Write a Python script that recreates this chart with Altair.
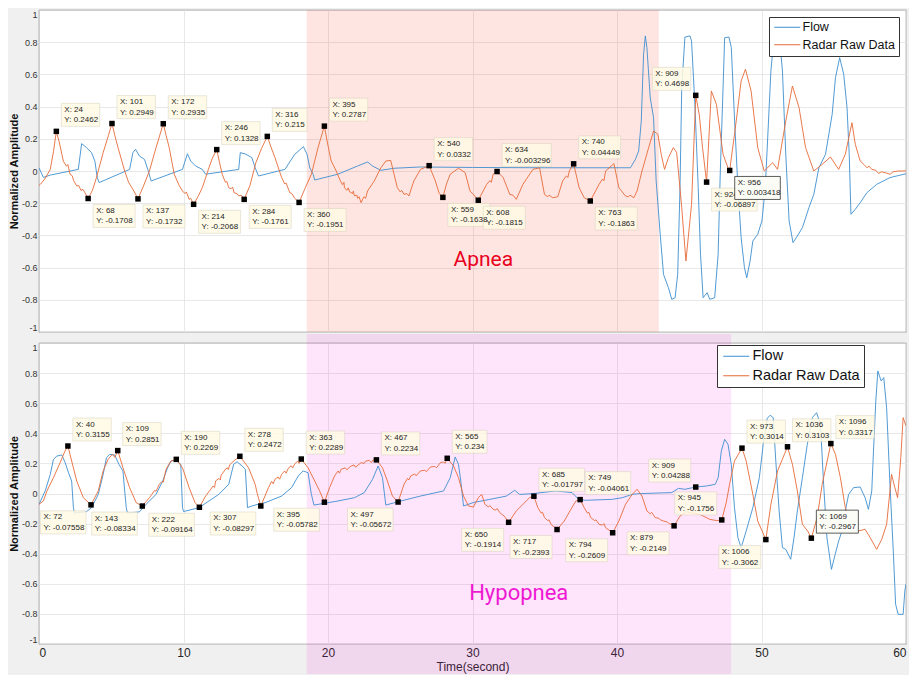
import altair as alt
import pandas as pd

W, H1, H2 = 867, 322, 301
SAMPLE_RATE = 20
SERIES = ["Flow", "Radar Raw Data"]
COLORS = ["#3d8fcf", "#e66a38"]
XTICKS = [0, 10, 20, 30, 40, 50, 60]
YTICKS = [-1.0, -0.8, -0.6, -0.4, -0.2, 0.0, 0.2, 0.4, 0.6, 0.8, 1.0]
FONT = "Liberation Sans, Arial, Helvetica, sans-serif"

APNEA_SPAN = [18.53, 42.9, -1.0, 1.0]
HYPOPNEA_SPAN = [18.53, 47.9, -1.2, 1.06]
APNEA_LABEL = ["Apnea", 30.75, -0.55]
HYPOPNEA_LABEL = ["Hypopnea", 33.2, -0.66]

# (time s, amplitude)
FLOW_TOP = [(0, 0.02), (0.3, -0.04), (0.8, -0.025), (2.72, 0.01), (2.95, 0.17), (3.29, 0.145), (3.64, 0.114),
            (3.87, 0.06), (4.03, -0.04), (4.16, -0.072), (6.27, 0.01), (6.5, 0.114), (6.68, 0.135), (6.95, 0.093),
            (7.3, 0.072), (7.53, 0.01), (7.76, -0.062), (9.93, 0.01), (10.27, 0.107), (10.5, 0.062), (10.84, 0.031),
            (11.3, 0.01), (11.53, -0.02), (13.82, 0.01), (13.93, 0.114), (14.3, 0.105), (14.73, 0.083), (14.96, 0.02),
            (15.19, -0.031), (17.02, 0.01), (17.7, 0.104), (18.3, 0.151), (18.55, 0.104), (18.74, 0.02), (18.97, -0.02),
            (19.08, -0.056), (20.68, -0.02), (22.05, 0.031), (22.74, 0.056), (23.08, 0.031), (23.66, 0.004),
            (24.57, 0.017), (26.4, 0.025), (30.0, 0.022), (35.0, 0.02), (40.93, 0.02), (41.27, 0.072), (41.5, 0.124),
            (41.68, 0.31), (41.84, 0.725), (41.96, 0.839), (42.07, 0.766), (42.3, 0.455), (42.53, 0.331),
            (42.71, -0.062), (42.99, -0.393), (43.22, -0.642), (43.56, -0.725), (43.79, -0.797), (44.02, -0.787),
            (44.2, -0.642), (44.36, -0.104), (44.48, 0.517), (44.7, 0.832), (45.05, 0.839), (45.16, 0.807),
            (45.39, 0.414), (45.62, -0.104), (45.78, -0.517), (45.96, -0.787), (46.24, -0.756), (46.42, -0.797),
            (46.76, -0.787), (47.0, -0.517), (47.15, 0.0), (47.34, 0.517), (47.45, 0.828), (47.75, 0.832),
            (47.91, 0.766), (48.14, 0.31), (48.37, -0.104), (48.59, -0.414), (48.82, -0.6), (48.98, -0.663),
            (49.21, -0.559), (49.4, -0.435), (49.74, -0.393), (50.03, -0.31), (50.26, -0.104), (50.43, 0.207),
            (50.65, 0.621), (50.88, 0.85), (51.22, 0.85), (51.45, 0.621), (51.68, 0.104), (51.91, -0.31),
            (52.18, -0.445), (52.48, -0.404), (52.83, -0.352), (53.28, -0.228), (53.62, -0.145), (53.97, 0.02),
            (54.43, 0.104), (54.89, 0.352), (55.12, 0.58), (55.41, 0.704), (55.69, 0.6), (55.92, 0.393),
            (56.07, 0.104), (56.19, -0.269), (56.49, -0.238), (56.83, -0.197), (57.29, -0.135), (57.97, -0.083),
            (58.89, -0.041), (60.0, -0.017)]

RADAR_TOP = [(0.0, -0.09), (0.09, -0.083), (0.4, -0.05), (0.78, 0.01), (1.0, 0.12), (1.2, 0.246), (1.4, 0.18),
             (1.69, 0.06), (1.9, 0.03), (2.0, 0.04), (2.15, -0.02), (2.3, -0.03), (2.4, -0.06), (2.61, -0.093),
             (2.75, -0.09), (2.9, -0.12), (3.05, -0.115), (3.18, -0.135), (3.4, -0.171), (3.7, -0.12),
             (3.98, -0.04), (4.44, 0.114), (4.8, 0.22), (5.05, 0.295), (5.25, 0.22),
             (5.47, 0.145), (5.93, 0.0), (6.2, -0.07), (6.5, -0.114), (6.85, -0.173), (7.2, -0.1), (7.64, 0.0),
             (8.1, 0.145), (8.6, 0.2935), (8.8, 0.22), (9.01, 0.145), (9.36, -0.02), (9.7, -0.09), (9.93, -0.124),
             (10.1, -0.14), (10.2, -0.13), (10.39, -0.176), (10.5, -0.17), (10.7, -0.207), (11.0, -0.16),
             (11.3, -0.104), (11.76, 0.02), (12.0, 0.08), (12.3, 0.133), (12.5, 0.05), (12.68, -0.02),
             (12.9, -0.07), (13.0, -0.065), (13.13, -0.104), (13.3, -0.11), (13.4, -0.1), (13.5, -0.135),
             (13.7, -0.14), (13.82, -0.155), (14.0, -0.15), (14.2, -0.176), (14.6, -0.09), (15.0, 0.05),
             (15.4, 0.14), (15.8, 0.215), (16.05, 0.15), (16.33, 0.083), (16.79, -0.04), (17.0, -0.08),
             (17.1, -0.075), (17.36, -0.135), (17.5, -0.14), (17.7, -0.17), (18.0, -0.195),
             (18.4, -0.11), (18.85, -0.02), (19.31, 0.145), (19.75, 0.279), (19.95, 0.18), (20.22, 0.062),
             (20.57, 0.0), (20.85, -0.06), (21.0, -0.085), (21.1, -0.07), (21.14, -0.104), (21.3, -0.12),
             (21.4, -0.105), (21.5, -0.13), (21.7, -0.14), (21.75, -0.125), (21.83, -0.155), (22.0, -0.15),
             (22.05, -0.17), (22.15, -0.16), (22.29, -0.197), (22.4, -0.175), (22.5, -0.16), (22.6, -0.17),
             (22.74, -0.124), (23.2, -0.062), (23.66, 0.02), (24.0, 0.062),
             (24.34, 0.066), (24.57, -0.02), (24.8, -0.104), (25.0, -0.13), (25.1, -0.12), (25.26, -0.145),
             (25.45, -0.14), (25.6, -0.155), (25.94, -0.062),
             (26.4, 0.01), (27.0, 0.033), (27.43, -0.062), (27.7, -0.14), (27.95, -0.164), (28.2, -0.08),
             (28.46, -0.02), (29.03, 0.017), (29.49, -0.01), (29.83, -0.124), (30.1, -0.15), (30.4, -0.1815),
             (30.98, -0.083), (31.2, -0.06), (31.3, -0.07), (31.43, -0.02), (31.7, -0.0033), (32.12, -0.04),
             (32.58, -0.145), (32.8, -0.15), (33.03, -0.176),
             (33.49, -0.083), (34.18, 0.01), (34.64, 0.02), (34.98, -0.145), (35.2, -0.16), (35.3, -0.15),
             (35.55, -0.166), (35.9, -0.16), (36.24, -0.062), (36.5, -0.03), (36.6, -0.04),
             (36.7, 0.0), (37.0, 0.0445), (37.38, -0.104), (37.73, -0.166), (38.15, -0.186),
             (38.76, -0.083), (39.0, -0.05), (39.1, -0.06), (39.21, 0.0), (39.79, 0.046), (40.13, -0.104),
             (40.59, -0.155), (40.8, -0.16), (40.9, -0.15), (41.16, -0.166),
             (41.39, -0.124), (41.73, 0.0), (42.19, 0.145), (42.53, 0.248), (42.83, 0.228), (43.06, 0.104),
             (43.29, 0.01), (43.56, 0.083), (43.9, 0.145), (44.13, 0.114), (44.48, -0.228), (44.77, -0.559),
             (45.16, -0.207), (45.45, 0.4698), (45.69, 0.352), (45.92, 0.145), (46.2, -0.069), (46.53, 0.497),
             (46.88, 0.414), (47.34, 0.104), (47.68, 0.02), (47.8, 0.0034), (48.25, 0.31), (48.59, 0.559),
             (48.89, 0.632), (49.28, 0.497), (49.74, 0.145), (50.19, 0.0), (50.77, 0.052), (51.11, 0.01),
             (51.68, 0.31), (52.14, 0.528), (52.6, 0.393), (53.05, 0.145), (53.62, 0.0), (54.2, 0.041),
             (54.77, 0.087), (55.34, 0.01), (55.8, 0.104), (56.26, 0.3), (56.49, 0.166), (56.83, 0.062),
             (57.1, 0.04), (57.3, 0.02), (57.45, 0.03), (57.63, 0.01), (57.9, 0.005), (58.1, -0.015),
             (58.3, -0.005), (58.55, -0.01), (58.9, -0.02), (59.1, -0.005), (59.46, 0.0), (60.0, 0.0)]

FLOW_BOT = [(0, -0.072), (0.43, 0.017), (0.78, 0.127), (1.0, 0.227), (1.24, 0.249), (1.58, 0.256), (1.81, 0.205),
            (2.04, 0.138), (2.26, 0.083), (2.38, -0.094), (2.45, -0.13), (3.29, -0.12), (3.64, -0.094),
            (4.1, -0.006), (4.44, 0.127), (4.67, 0.238), (4.9, 0.26), (5.24, 0.256), (5.53, 0.194), (5.81, 0.15),
            (5.93, 0.017), (6.04, -0.094), (6.12, -0.13), (6.95, -0.122), (7.41, -0.072), (8.1, -0.006),
            (8.56, 0.083), (8.9, 0.171), (9.13, 0.216), (9.47, 0.22), (9.81, 0.194), (9.93, -0.094), (10.0, -0.12),
            (11.07, -0.094), (11.76, -0.05), (12.44, -0.006), (13.13, 0.061), (13.47, 0.194), (13.71, 0.211),
            (14.05, 0.183), (14.28, 0.161), (14.43, -0.094), (14.73, -0.083), (15.3, -0.068), (15.65, -0.061),
            (16.79, -0.017), (17.48, 0.039), (17.94, 0.116), (18.28, 0.15), (18.62, 0.138), (18.85, -0.006),
            (19.03, -0.077), (20.68, -0.05), (21.83, -0.028), (22.51, 0.006), (23.08, 0.094), (23.47, 0.183),
            (23.77, 0.105), (24.0, -0.077), (25.03, -0.05), (26.4, -0.017), (28.0, 0.017), (28.46, 0.105),
            (28.8, 0.243), (29.03, 0.194), (29.19, 0.083), (29.38, -0.083), (30.06, -0.06), (31.2, -0.039),
            (32.35, -0.017), (32.92, 0.021), (33.26, -0.006), (34.18, -0.001), (35.75, 0.017), (36.89, 0.006),
            (37.35, -0.039), (37.8, -0.045), (39.67, -0.039), (40.36, -0.028), (41.05, -0.006), (41.5, -0.001),
            (43.79, 0.006), (44.25, 0.034), (44.7, 0.028), (45.45, 0.043), (46.2, 0.05), (46.8, 0.061),
            (47.0, 0.105), (47.22, 0.282), (47.45, 0.36), (47.68, 0.327), (47.91, 0.194), (48.13, -0.094),
            (48.37, -0.294), (48.59, -0.36), (48.94, -0.249), (49.4, -0.094), (49.85, 0.105), (50.12, 0.327),
            (50.4, 0.5), (50.6, 0.52), (50.81, 0.504), (50.99, 0.216), (51.22, -0.116), (51.45, -0.36),
            (51.68, -0.371), (52.02, -0.437), (52.25, -0.294), (52.48, -0.116), (52.83, 0.105), (53.17, 0.327),
            (53.52, 0.504), (53.81, 0.537), (54.08, 0.46), (54.3, 0.061), (54.53, -0.294), (54.84, -0.504),
            (55.1, -0.404), (55.34, -0.316), (55.57, -0.249), (55.8, -0.116), (56.03, -0.006), (56.37, 0.039),
            (56.83, 0.043), (57.17, -0.028), (57.4, -0.105), (57.63, 0.017), (57.75, 0.282), (57.91, 0.615),
            (58.05, 0.814), (58.28, 0.748), (58.46, 0.77), (58.66, 0.57), (58.89, 0.061), (59.12, -0.382),
            (59.28, -0.736), (59.46, -0.803), (59.8, -0.803), (59.92, -0.648), (60.0, -0.6)]

RADAR_BOT = [(0, -0.072), (0.3, -0.05), (0.55, 0.017), (1.0, 0.105), (1.46, 0.205), (1.8, 0.282), (2.0, 0.3155),
             (2.26, 0.216), (2.61, 0.083), (3.07, -0.028), (3.6, -0.0756), (4.1, 0.017), (4.44, 0.15), (4.78, 0.227),
             (5.08, 0.26), (5.25, 0.24), (5.45, 0.2851), (5.81, 0.171), (6.27, 0.039), (6.73, -0.061),
             (7.15, -0.0833), (7.64, -0.028), (8.0, 0.02), (8.1, 0.015), (8.33, 0.061), (8.5, 0.08),
             (8.6, 0.075), (8.79, 0.161), (9.13, 0.216),
             (9.5, 0.2269), (9.93, 0.171), (10.39, 0.039), (10.8, -0.061), (11.1, -0.0916), (11.53, -0.017),
             (11.9, 0.03), (12.05, 0.05), (12.15, 0.04), (12.22, 0.083), (12.45, 0.1), (12.55, 0.09),
             (12.6, 0.12), (12.9, 0.161), (13.05, 0.17), (13.1, 0.16), (13.2, 0.19), (13.47, 0.216),
             (13.9, 0.2472), (14.5, 0.171), (14.96, 0.061), (15.1, 0.0), (15.35, -0.083), (15.88, 0.039),
             (16.1, 0.08), (16.2, 0.065), (16.33, 0.094), (16.55, 0.11), (16.65, 0.095), (16.79, 0.127),
             (17.0, 0.15), (17.1, 0.135), (17.25, 0.167), (17.45, 0.185), (17.55, 0.17), (17.71, 0.198),
             (17.9, 0.215), (18.0, 0.2), (18.15, 0.2289), (18.62, 0.171),
             (19.08, 0.083), (19.42, 0.017), (19.75, -0.058), (20.11, 0.039), (20.45, 0.116), (20.7, 0.15),
             (20.8, 0.135), (20.91, 0.161), (21.2, 0.17), (21.3, 0.158), (21.6, 0.183), (21.8, 0.19),
             (21.9, 0.175), (22.29, 0.205), (22.5, 0.2), (22.6, 0.215), (22.86, 0.22), (23.0, 0.205),
             (23.1, 0.222), (23.35, 0.2234), (23.77, 0.171), (24.11, 0.083),
             (24.46, -0.017), (24.85, -0.0567), (25.26, 0.061), (25.5, 0.1), (25.6, 0.09), (25.72, 0.116),
             (26.0, 0.13), (26.1, 0.118), (26.4, 0.15), (26.7, 0.155), (26.8, 0.145), (27.09, 0.176),
             (27.4, 0.18), (27.5, 0.17), (27.78, 0.205), (28.0, 0.21), (28.1, 0.2), (28.25, 0.234),
             (28.69, 0.183), (29.03, 0.105), (29.38, -0.017), (29.72, -0.083),
             (30.06, -0.09), (30.4, -0.028), (30.64, -0.006), (30.86, -0.072), (31.1, -0.09), (31.2, -0.08),
             (31.43, -0.105), (31.6, -0.11), (31.7, -0.1), (31.89, -0.127), (32.05, -0.14),
             (32.2, -0.15), (32.5, -0.1914), (33.03, -0.116), (33.49, -0.072), (33.95, -0.028), (34.25, -0.018),
             (34.52, -0.094), (34.75, -0.13), (34.85, -0.125), (34.98, -0.16), (35.2, -0.18), (35.3, -0.175),
             (35.44, -0.205), (35.85, -0.2393), (36.35, -0.183), (36.81, -0.105),
             (37.15, -0.05), (37.45, -0.0406), (37.73, -0.094), (37.95, -0.13), (38.05, -0.125),
             (38.18, -0.16), (38.45, -0.18), (38.55, -0.175), (38.76, -0.205), (39.0, -0.21), (39.1, -0.2),
             (39.21, -0.227), (39.7, -0.2609), (40.13, -0.183), (40.59, -0.072), (41.05, -0.006), (41.39, 0.028),
             (41.73, -0.017), (42.07, -0.116), (42.3, -0.135), (42.4, -0.125), (42.64, -0.16), (42.9, -0.165),
             (43.0, -0.175), (43.22, -0.183), (43.5, -0.19), (43.6, -0.2), (43.79, -0.205), (43.95, -0.2149),
             (44.36, -0.15),
             (44.8, -0.12), (45.2, -0.13), (45.73, -0.138), (46.42, -0.172), (46.9, -0.18), (47.25, -0.1756),
             (47.56, -0.061), (47.79, 0.061), (48.13, 0.216), (48.65, 0.3014), (48.94, 0.216), (49.4, -0.006),
             (49.74, -0.183), (50.3, -0.3062), (50.65, -0.072), (51.11, 0.15), (51.8, 0.3103), (52.14, 0.194),
             (52.48, 0.017), (52.83, -0.205), (53.2, -0.25), (53.45, -0.2967), (53.85, -0.16), (54.2, 0.061),
             (54.8, 0.3317), (55.12, 0.26), (55.46, 0.105), (55.8, -0.094), (56.26, -0.216), (56.72, -0.249),
             (57.17, -0.238), (57.52, -0.293), (57.97, -0.371), (58.32, -0.305), (58.66, -0.205), (59.0, 0.127),
             (59.23, 0.039), (59.42, -0.028), (59.64, 0.238), (59.8, 0.504), (60.0, 0.45)]

# data tips: (sample index, value, placement u/l + r/l)
TIPS_TOP = [(24, 0.2462, "ur"), (68, -0.1708, "lr"), (101, 0.2949, "ur"), (137, -0.1732, "lr"),
            (172, 0.2935, "ur"), (214, -0.2068, "lr"), (246, 0.1328, "ur"), (284, -0.1761, "lr"),
            (316, 0.215, "ur"), (360, -0.1951, "lr"), (395, 0.2787, "ur"), (540, 0.0332, "ur"),
            (559, -0.1638, "lr"), (608, -0.1815, "lr"), (634, -0.003296, "ur"), (740, 0.04449, "ur"),
            (763, -0.1863, "lr"), (909, 0.4698, "ul"), (924, -0.06897, "lr"), (956, 0.003418, "lr")]
TIPS_BOT = [(40, 0.3155, "ur"), (72, -0.07558, "ll"), (109, 0.2851, "ur"), (143, -0.08334, "ll"),
            (190, 0.2269, "ur"), (222, -0.09164, "ll"), (278, 0.2472, "ur"), (307, -0.08297, "ll"),
            (363, 0.2289, "ur"), (395, -0.05782, "ll"), (467, 0.2234, "ur"), (497, -0.05672, "ll"),
            (565, 0.234, "ur"), (650, -0.1914, "ll"), (685, -0.01797, "ur"), (717, -0.2393, "ll"),
            (749, -0.04061, "ur"), (794, -0.2609, "ll"), (879, -0.2149, "ll"), (909, 0.04288, "ul"),
            (945, -0.1756, "ul"), (973, 0.3014, "ur"), (1006, -0.3062, "ll"), (1036, 0.3103, "ur"),
            (1069, -0.2967, "ur"), (1096, 0.3317, "ur")]
HILITE_TOP = [956]
HILITE_BOT = [1069]


def tips_frame(tips, hilite, H):
    ppx = W / 60.0
    ppy = H / 2.0
    rows = []
    for X, Y, pos in tips:
        t = X / SAMPLE_RATE
        xs, ys = f"X: {X}", f"Y: {Y}"
        w = 3.6 * max(len(xs), len(ys)) + 6
        if pos[1] == "r":
            x0 = t + 5 / ppx
        else:
            x0 = t - (5 + w) / ppx
        x1 = x0 + w / ppx
        if pos[0] == "u":
            bot = Y + 5 / ppy
            top = bot + 23 / ppy
        else:
            top = Y - 6 / ppy
            bot = top - 23 / ppy
        rows.append(dict(t=t, v=Y, x0=x0, x1=x1, top=top, bot=bot,
                         label=xs + "\n" + ys, hi=X in hilite))
    return pd.DataFrame(rows)


def panel(flow, radar, tips, hilite, H, span, span_fill, span_op, word, word_color, word_font, word_size,
          bottom, legend_fs, legend_dx, legend_dy):
    xscale = alt.Scale(domain=[0, 60], nice=False, zero=False)
    yscale = alt.Scale(domain=[-1, 1], nice=False, zero=False)
    xaxis = alt.Axis(values=XTICKS, grid=True, ticks=False, labels=bottom, labelFontSize=12,
                     labelPadding=3, titlePadding=3, titleFontSize=12, titleFontWeight="normal",
                     labelColor="#262626", titleColor="#262626", domain=False)
    yaxis = alt.Axis(values=YTICKS, grid=True, ticks=False, labelFontSize=9, labelPadding=2,
                     labelExpr="toString(round(datum.value*10)/10)", labelFlush=True,
                     titleFontSize=11, titleFontWeight="bold", titlePadding=2, labelColor="#333333",
                     titleColor="#111111", domain=False)
    xtitle = "Time(second)" if bottom else None

    def X(f):
        return alt.X(f, type="quantitative", scale=xscale, axis=xaxis, title=xtitle)

    def Y(f):
        return alt.Y(f, type="quantitative", scale=yscale, axis=yaxis, title="Normalized Amplitude")

    legend = alt.Legend(title=None, orient="none", legendX=W - legend_dx, legendY=legend_dy,
                        fillColor="white", strokeColor="#333333", padding=4, labelFontSize=legend_fs,
                        labelFont=FONT, labelColor="#111111", symbolType="M-1,0H4.2", symbolSize=100,
                        symbolStrokeWidth=1, labelOffset=17, rowPadding=4.5, labelLimit=300)
    color = alt.Color("series:N", scale=alt.Scale(domain=SERIES, range=COLORS), legend=legend)

    fdf = pd.DataFrame(flow, columns=["t", "v"]).assign(series=SERIES[0])
    rdf = pd.DataFrame(radar, columns=["t", "v"]).assign(series=SERIES[1])
    sdf = pd.DataFrame([dict(x0=span[0], x1=span[1], y0=span[2], y1=span[3])])
    tdf = tips_frame(tips, hilite, H)
    norm = tdf[~tdf.hi]
    hi = tdf[tdf.hi]
    wdf = pd.DataFrame([dict(t=word[1], v=word[2], text=word[0])])

    shade = alt.Chart(sdf).mark_rect(fill=span_fill, opacity=span_op, clip=False).encode(
        x=X("x0"), x2="x1", y=Y("y0"), y2="y1")
    fl = alt.Chart(fdf).mark_line(strokeWidth=0.9, clip=True).encode(x=X("t"), y=Y("v"), color=color)
    rl = alt.Chart(rdf).mark_line(strokeWidth=0.9, clip=True).encode(x=X("t"), y=Y("v"), color=color)
    box = alt.Chart(norm).mark_rect(fill="#fffbe4", stroke="#d6d2bd", strokeWidth=0.6, opacity=0.85).encode(
        x=X("x0"), x2="x1", y=Y("top"), y2="bot")
    txt = alt.Chart(norm).mark_text(align="left", baseline="top", dx=3, dy=2.5, fontSize=8, font=FONT,
                                    color="#222222", lineBreak="\n", lineHeight=10.5).encode(
        x=X("x0"), y=Y("top"), text="label:N")
    mk = alt.Chart(tdf).mark_square(size=30, color="black", opacity=1).encode(x=X("t"), y=Y("v"))
    hbox = alt.Chart(hi).mark_rect(fill="#fcfcf6", stroke="#333333", strokeWidth=0.8, opacity=1).encode(
        x=X("x0"), x2="x1", y=Y("top"), y2="bot")
    htxt = alt.Chart(hi).mark_text(align="left", baseline="top", dx=3, dy=2.5, fontSize=8, font=FONT,
                                   color="#222222", lineBreak="\n", lineHeight=10.5).encode(
        x=X("x0"), y=Y("top"), text="label:N")
    wd = alt.Chart(wdf).mark_text(font=word_font, fontSize=word_size, color=word_color).encode(
        x=X("t"), y=Y("v"), text="text:N")
    return alt.layer(shade, fl, rl, box, txt, mk, hbox, htxt, wd).properties(width=W, height=H)


top = panel(FLOW_TOP, RADAR_TOP, TIPS_TOP, HILITE_TOP, H1, APNEA_SPAN, "#ff3322", 0.13, APNEA_LABEL,
            "#e8001c", "Roboto, sans-serif", 21, False, 12.5, 137, 7)
bottom = panel(FLOW_BOT, RADAR_BOT, TIPS_BOT, HILITE_BOT, H2, HYPOPNEA_SPAN, "#ff00dd", 0.1,
               HYPOPNEA_LABEL, "#ee18d2", "Roboto, sans-serif", 22, True, 14.5, 189, 2)

chart = alt.vconcat(top, bottom, spacing=11, bounds="flush").resolve_scale(
    color="independent").resolve_legend(color="independent").properties(
    background="#f0f0f0", padding={"left": 0, "top": 1, "right": 2, "bottom": 0}).configure(
    font=FONT).configure_view(fill="white", stroke="#3c3c3c", strokeWidth=0.8).configure_axis(
    gridColor="#e2e2e2", gridWidth=0.8, labelFont=FONT, titleFont=FONT)

chart.save("out.html", embed_options={"renderer": "svg", "actions": False})
